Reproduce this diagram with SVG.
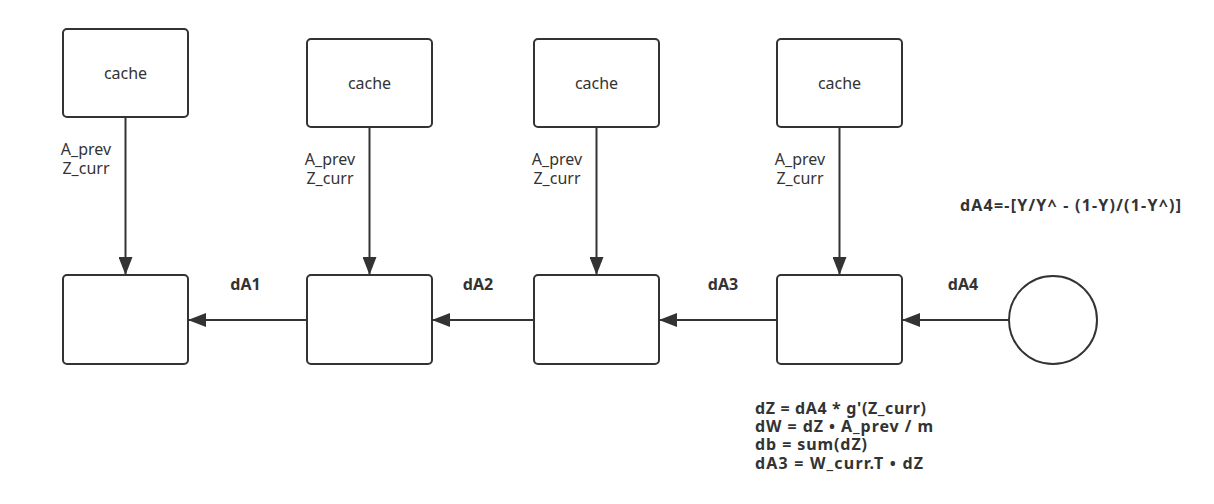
<svg xmlns="http://www.w3.org/2000/svg" width="1214" height="504" viewBox="0 0 1214 504">
<style>
.box{fill:#fff;stroke:#333;stroke-width:2}
.ln{stroke:#333;stroke-width:2;fill:none}
.t{font-family:"Noto Sans","Open Sans",sans-serif;font-size:16px;fill:#333}
.b{font-family:"Noto Sans","Open Sans",sans-serif;font-size:16px;font-weight:bold;fill:#333}
</style>
<defs>
<marker id="a" markerWidth="18" markerHeight="14" refX="17" refY="7" orient="auto" markerUnits="userSpaceOnUse">
<path d="M0,0 L18,7 L0,14 z" fill="#333"/>
</marker>
</defs>
<rect width="1214" height="504" fill="#fff"/>
<g id="cache1"><rect class="box" x="63" y="29" width="125" height="88" rx="4"/><text class="t" x="125.5" y="79" text-anchor="middle">cache</text></g>
<g id="cache2"><rect class="box" x="307" y="39" width="125" height="88" rx="4"/><text class="t" x="369.5" y="89" text-anchor="middle">cache</text></g>
<g id="cache3"><rect class="box" x="534" y="39" width="125" height="88" rx="4"/><text class="t" x="596.5" y="89" text-anchor="middle">cache</text></g>
<g id="cache4"><rect class="box" x="777" y="39" width="125" height="88" rx="4"/><text class="t" x="839.5" y="89" text-anchor="middle">cache</text></g>
<g id="layer1"><rect class="box" x="63" y="275" width="125" height="89" rx="4"/></g>
<g id="layer2"><rect class="box" x="307" y="275" width="125" height="89" rx="4"/></g>
<g id="layer3"><rect class="box" x="534" y="275" width="125" height="89" rx="4"/></g>
<g id="layer4"><rect class="box" x="777" y="275" width="125" height="89" rx="4"/></g>
<g id="output"><circle class="box" cx="1053" cy="320" r="44"/></g>
<g id="connectors">
<line class="ln" x1="125.5" y1="117" x2="125.5" y2="274" marker-end="url(#a)"/>
<line class="ln" x1="369.5" y1="127" x2="369.5" y2="274" marker-end="url(#a)"/>
<line class="ln" x1="596.5" y1="127" x2="596.5" y2="274" marker-end="url(#a)"/>
<line class="ln" x1="839.5" y1="127" x2="839.5" y2="274" marker-end="url(#a)"/>
<line class="ln" x1="307" y1="320" x2="189" y2="320" marker-end="url(#a)"/>
<line class="ln" x1="534" y1="320" x2="433" y2="320" marker-end="url(#a)"/>
<line class="ln" x1="777" y1="320" x2="660" y2="320" marker-end="url(#a)"/>
<line class="ln" x1="1009" y1="320" x2="903" y2="320" marker-end="url(#a)"/>
</g>
<g id="labels">
<text class="t" x="86" y="155" text-anchor="middle">A_prev</text>
<text class="t" x="86" y="174" text-anchor="middle">Z_curr</text>
<text class="t" x="330" y="165" text-anchor="middle">A_prev</text>
<text class="t" x="330" y="184" text-anchor="middle">Z_curr</text>
<text class="t" x="557" y="165" text-anchor="middle">A_prev</text>
<text class="t" x="557" y="184" text-anchor="middle">Z_curr</text>
<text class="t" x="800" y="165" text-anchor="middle">A_prev</text>
<text class="t" x="800" y="184" text-anchor="middle">Z_curr</text>
<text class="b" x="245.5" y="290" text-anchor="middle">dA1</text>
<text class="b" x="478" y="290" text-anchor="middle">dA2</text>
<text class="b" x="723" y="290" text-anchor="middle">dA3</text>
<text class="b" x="963" y="290" text-anchor="middle">dA4</text>
<text class="b" x="960" y="211" textLength="221" lengthAdjust="spacing">dA4=-[Y/Y^ - (1-Y)/(1-Y^)]</text>
<text class="b" x="755" y="414" textLength="171" lengthAdjust="spacing">dZ = dA4 * g'(Z_curr)</text>
<text class="b" x="755" y="432" textLength="178" lengthAdjust="spacing">dW = dZ • A_prev / m</text>
<text class="b" x="755" y="450" textLength="112" lengthAdjust="spacing">db = sum(dZ)</text>
<text class="b" x="755" y="469" textLength="168" lengthAdjust="spacing">dA3 = W_curr.T • dZ</text>
</g>
</svg>
